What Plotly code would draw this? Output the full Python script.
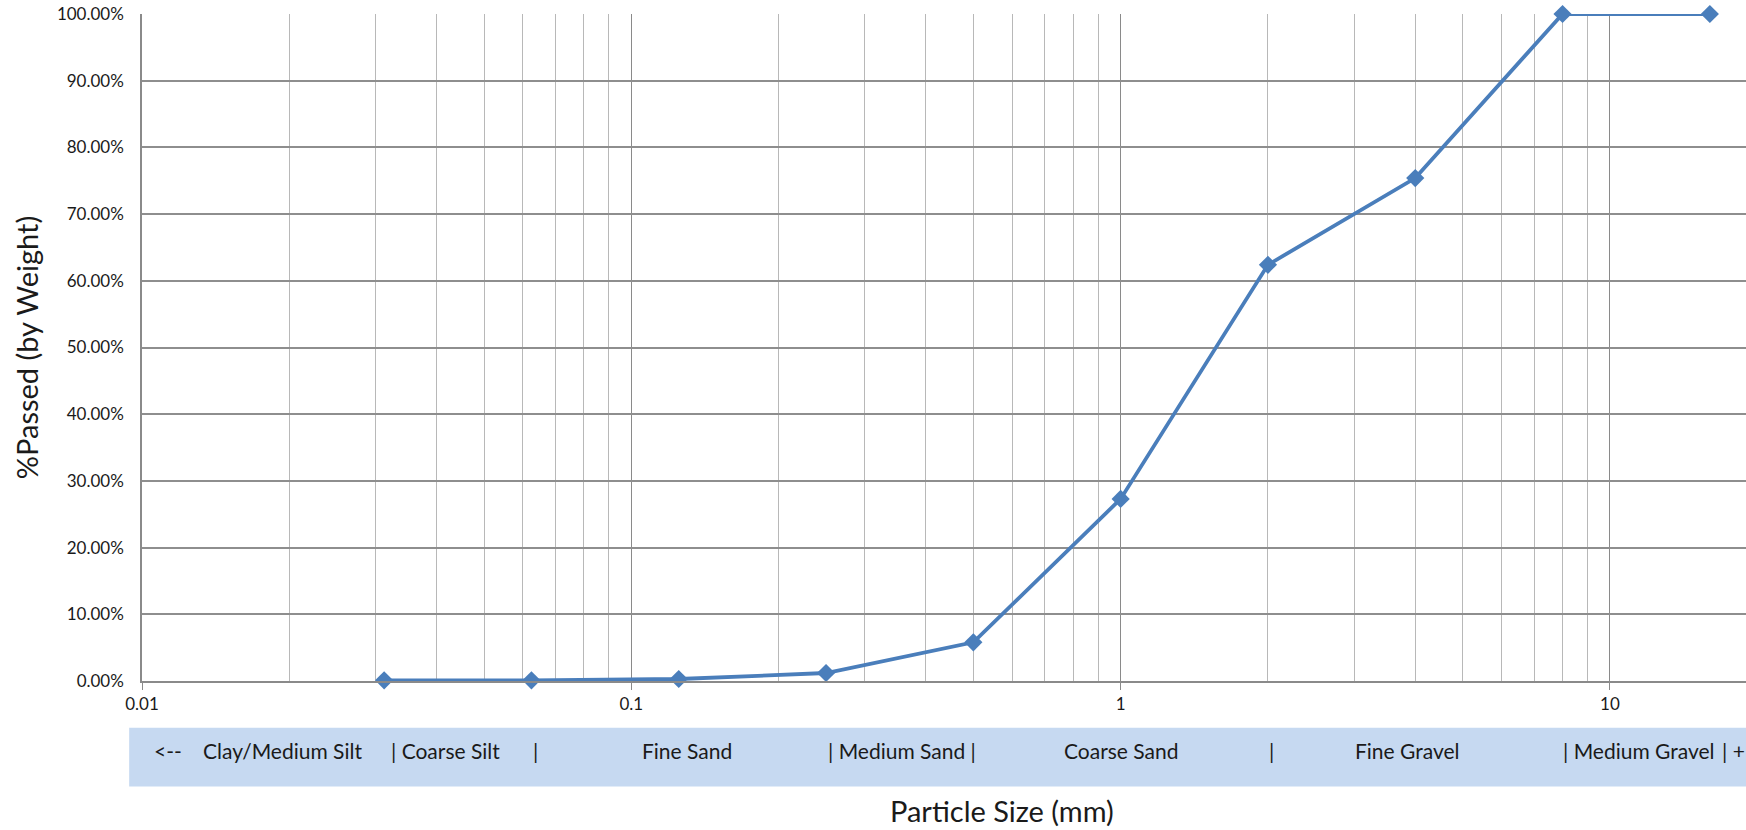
import math
import plotly.graph_objects as go

# Sieve sizes (mm) and cumulative percent passing
sieve_mm = [0.03125, 0.0625, 0.125, 0.25, 0.5, 1, 2, 4, 8, 16]
pct_passed = [0.1, 0.1, 0.3, 1.2, 5.8, 27.3, 62.4, 75.4, 100.0, 100.0]

x_tick_vals = [0.01, 0.1, 1, 10]
x_tick_text = ["0.01", "0.1", "1", "10"]
y_tick_vals = [0, 10, 20, 30, 40, 50, 60, 70, 80, 90, 100]
y_tick_text = ["0.00%", "10.00%", "20.00%", "30.00%", "40.00%", "50.00%",
               "60.00%", "70.00%", "80.00%", "90.00%", "100.00%"]

# Size-class band beneath the axis: text pieces and their positions (mm)
band_text = ["<--", "Clay/Medium Silt", "| Coarse Silt", "|", "Fine Sand",
             "| Medium Sand |", "Coarse Sand", "|", "Fine Gravel",
             "| Medium Gravel", "| +"]
band_pos = [0.0113, 0.0194, 0.0321, 0.0638, 0.130, 0.2506, 1.0, 2.03, 3.85,
            7.98, 16.9]
band_anchor = ["center", "center", "left", "center", "center", "left",
               "center", "center", "center", "left", "left"]

FONT = "Lato, 'Open Sans', sans-serif"
LINE_BLUE = "#4a7ebb"

minor_vals = [m * 10 ** e for e in (-2, -1, 0, 1) for m in range(2, 10)]

fig = go.Figure()
fig.add_trace(go.Scatter(
    x=sieve_mm, y=pct_passed, mode="lines+markers",
    line=dict(color=LINE_BLUE, width=3.8),
    marker=dict(symbol="diamond", size=14, color=LINE_BLUE),
    cliponaxis=False, showlegend=False,
))

# blue band behind the size-class labels
fig.add_shape(type="rect", xref="paper", yref="paper",
              x0=-0.008, x1=1.0, y0=-0.158, y1=-0.07,
              fillcolor="#c6d9f1", line=dict(width=0), layer="below")

# annotation x on a log axis is given in log10 units
for txt, pos, anc in zip(band_text, band_pos, band_anchor):
    fig.add_annotation(x=math.log10(pos), y=-0.104,
                       xref="x", yref="paper", text=txt, showarrow=False,
                       xanchor=anc, yanchor="middle", borderpad=0,
                       font=dict(family=FONT, size=21, color="#1a1a1a"))

fig.add_annotation(x=0.536, xref="paper", y=-0.194, yref="paper",
                   text="Particle Size (mm)", showarrow=False,
                   xanchor="center", yanchor="middle",
                   font=dict(family=FONT, size=29, color="#1a1a1a"))

fig.update_xaxes(
    type="log", range=[-2, 1.278],
    tickvals=x_tick_vals, ticktext=x_tick_text,
    ticks="outside", ticklen=7, tickcolor="#8a8a8a", tickwidth=1.2,
    showgrid=True, gridcolor="#8a8a8a", gridwidth=1.3,
    minor=dict(tickvals=minor_vals, showgrid=True, gridcolor="#b8b8b8",
               gridwidth=1.2, ticks=""),
    showline=True, linecolor="#8a8a8a", linewidth=1.5,
    tickfont=dict(family=FONT, size=17, color="#1a1a1a"),
    zeroline=False, fixedrange=True,
)
fig.update_yaxes(
    range=[0, 100], tickvals=y_tick_vals, ticktext=y_tick_text,
    showgrid=True, gridcolor="#8e8e8e", gridwidth=1.5,
    showline=True, linecolor="#8a8a8a", linewidth=1.5,
    ticks="", ticklabelstandoff=13,
    tickfont=dict(family=FONT, size=17, color="#1a1a1a"),
    title=dict(text="%Passed (by Weight)", standoff=10,
               font=dict(family=FONT, size=29, color="#1a1a1a")),
    zeroline=False, fixedrange=True,
)

fig.update_layout(
    width=1746, height=830,
    margin=dict(l=142, r=0, t=14, b=149),
    paper_bgcolor="white", plot_bgcolor="white",
)

fig.write_html("out.html", config={"displayModeBar": False})
